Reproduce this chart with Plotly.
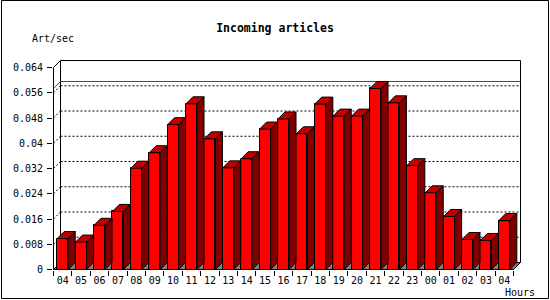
import plotly.graph_objects as go

# ---------------- data ----------------
hours = ["04", "05", "06", "07", "08", "09", "10", "11", "12", "13", "14", "15",
         "16", "17", "18", "19", "20", "21", "22", "23", "00", "01", "02", "03", "04"]
rates = [0.0098, 0.0087, 0.0140, 0.0184, 0.0321, 0.0370, 0.0459, 0.0525, 0.0414,
         0.0322, 0.0351, 0.0445, 0.0477, 0.0430, 0.0524, 0.0486, 0.0486, 0.05735,
         0.0528, 0.0329, 0.0243, 0.0168, 0.0095, 0.0092, 0.0155]
y_ticks = [0, 0.008, 0.016, 0.024, 0.032, 0.040, 0.048, 0.056, 0.064]
y_tick_labels = ["0", "0.008", "0.016", "0.024", "0.032", "0.04", "0.048", "0.056", "0.064"]

# ---------------- geometry ----------------
W, H = 550, 300
L, T = 53, 60
DEPTH = 7                      # pseudo-3D depth in px
n = len(hours)
front_w = 460                  # px for the front floor
front_h = 202                  # px for 0..0.064
ppu = front_w / n
ymax = y_ticks[-1]
ppv = front_h / ymax
DX = DEPTH / ppu
DY = DEPTH / ppv
pw = front_w + DEPTH + 1
ph = front_h + DEPTH + 1
R = W - L - pw
B = H - T - ph
x0, x1 = -0.5, n - 0.5
xr = [x0 - 0.5 / ppu, x1 + DX + 0.5 / ppu]
yr = [-0.5 / ppv, ymax + DY + 0.5 / ppv]
hw = 0.3

FRONT = "#FF0000"
SIDE = "#800000"
TOP = "#C00000"
FLOOR = "#808080"
MONO = "DejaVu Sans Mono"

fig = go.Figure()

# front faces
fig.add_trace(go.Bar(x=list(range(n)), y=rates, width=2 * hw,
                     marker=dict(color=FRONT, line=dict(color="black", width=1)),
                     hoverinfo="skip", showlegend=False))

# side faces & top faces
sx, sy, tx, ty = [], [], [], []
for i, v in enumerate(rates):
    sx += [i + hw, i + hw + DX, i + hw + DX, i + hw, i + hw, None]
    sy += [0, DY, v + DY, v, 0, None]
    tx += [i - hw, i - hw + DX, i + hw + DX, i + hw, i - hw, None]
    ty += [v, v + DY, v + DY, v, v, None]
fig.add_trace(go.Scatter(x=sx, y=sy, mode="lines", fill="toself", fillcolor=SIDE,
                         line=dict(color="black", width=1), hoverinfo="skip", showlegend=False))
fig.add_trace(go.Scatter(x=tx, y=ty, mode="lines", fill="toself", fillcolor=TOP,
                         line=dict(color="black", width=1), hoverinfo="skip", showlegend=False))

shapes = []
# back wall
shapes.append(dict(type="rect", xref="x", yref="y", x0=x0 + DX, x1=x1 + DX, y0=DY, y1=ymax + DY,
                   fillcolor="white", line=dict(color="black", width=1), layer="below"))
# floor
shapes.append(dict(type="path", xref="x", yref="y",
                   path=f"M{x0},0 L{x1},0 L{x1 + DX},{DY} L{x0 + DX},{DY} Z",
                   fillcolor=FLOOR, line=dict(color="black", width=1), layer="below"))
# grid lines on back wall + left connectors
for v in y_ticks[1:-1]:
    shapes.append(dict(type="line", xref="x", yref="y", x0=x0 + DX, x1=x1 + DX, y0=v + DY, y1=v + DY,
                       line=dict(color="black", width=1, dash="2px,2px"), layer="below"))
    shapes.append(dict(type="line", xref="x", yref="y", x0=x0, x1=x0 + DX, y0=v, y1=v + DY,
                       line=dict(color="black", width=1, dash="2px,2px"), layer="below"))
# max line (red)
vmax = max(rates)
shapes.append(dict(type="line", xref="x", yref="y", x0=x0 + DX, x1=x1 + DX, y0=vmax + DY, y1=vmax + DY,
                   line=dict(color="#FF0000", width=1), layer="below"))
shapes.append(dict(type="line", xref="x", yref="y", x0=x0, x1=x0 + DX, y0=vmax, y1=vmax + DY,
                   line=dict(color="#FF0000", width=1), layer="below"))
# top-left corner diagonal
shapes.append(dict(type="line", xref="x", yref="y", x0=x0, x1=x0 + DX, y0=ymax, y1=ymax + DY,
                   line=dict(color="black", width=1)))
# front y axis
shapes.append(dict(type="line", xref="x", yref="y", x0=x0, x1=x0, y0=0, y1=ymax,
                   line=dict(color="black", width=1)))
# front floor edge
shapes.append(dict(type="line", xref="x", yref="y", x0=x0, x1=x1, y0=0, y1=0,
                   line=dict(color="black", width=1)))
# outer image border
shapes.append(dict(type="rect", xref="paper", yref="paper",
                   x0=(1.5 - L) / pw, x1=(548.5 - L) / pw,
                   y0=(T + ph - 298.5) / ph, y1=(T + ph - 0.5) / ph,
                   line=dict(color="black", width=1), fillcolor="rgba(0,0,0,0)"))

fig.update_layout(
    width=W, height=H,
    margin=dict(l=L, r=R, t=T, b=B, pad=0),
    paper_bgcolor="white", plot_bgcolor="white",
    shapes=shapes,
    bargap=0,
    title=dict(text="Incoming articles", x=0.5, xanchor="center", xref="container",
               y=1 - 28 / H, yanchor="middle", yref="container",
               font=dict(family=MONO, size=11.5, color="black", weight="bold")),
    xaxis=dict(range=xr, tickmode="array", tickvals=list(range(n)), ticktext=hours,
               ticks="", showgrid=False, zeroline=False, showline=False, fixedrange=True,
               ticklabelstandoff=3,
               tickfont=dict(family=MONO, size=10, color="black"),
               minor=dict(tickmode="array", tickvals=[i - 0.5 for i in range(n + 1)],
                          ticks="outside", ticklen=5, tickcolor="black", tickwidth=1, showgrid=False)),
    yaxis=dict(range=yr, tickmode="array", tickvals=y_ticks, ticktext=y_tick_labels,
               ticks="outside", ticklen=5, tickcolor="black", tickwidth=1,
               showgrid=False, zeroline=False, showline=False, fixedrange=True,
               ticklabelstandoff=2,
               tickfont=dict(family=MONO, size=10, color="black")),
    annotations=[
        dict(text="Art/sec", xref="paper", yref="paper", x=(30 - L) / pw, y=(T + ph - 39) / ph,
             xanchor="left", yanchor="middle", showarrow=False,
             font=dict(family=MONO, size=10, color="black")),
        dict(text="Hours", xref="paper", yref="paper", x=(519.5 - L) / pw, y=(T + ph - 292) / ph,
             xanchor="center", yanchor="middle", showarrow=False,
             font=dict(family=MONO, size=10, color="black")),
    ],
)

fig.write_html("out.html")
